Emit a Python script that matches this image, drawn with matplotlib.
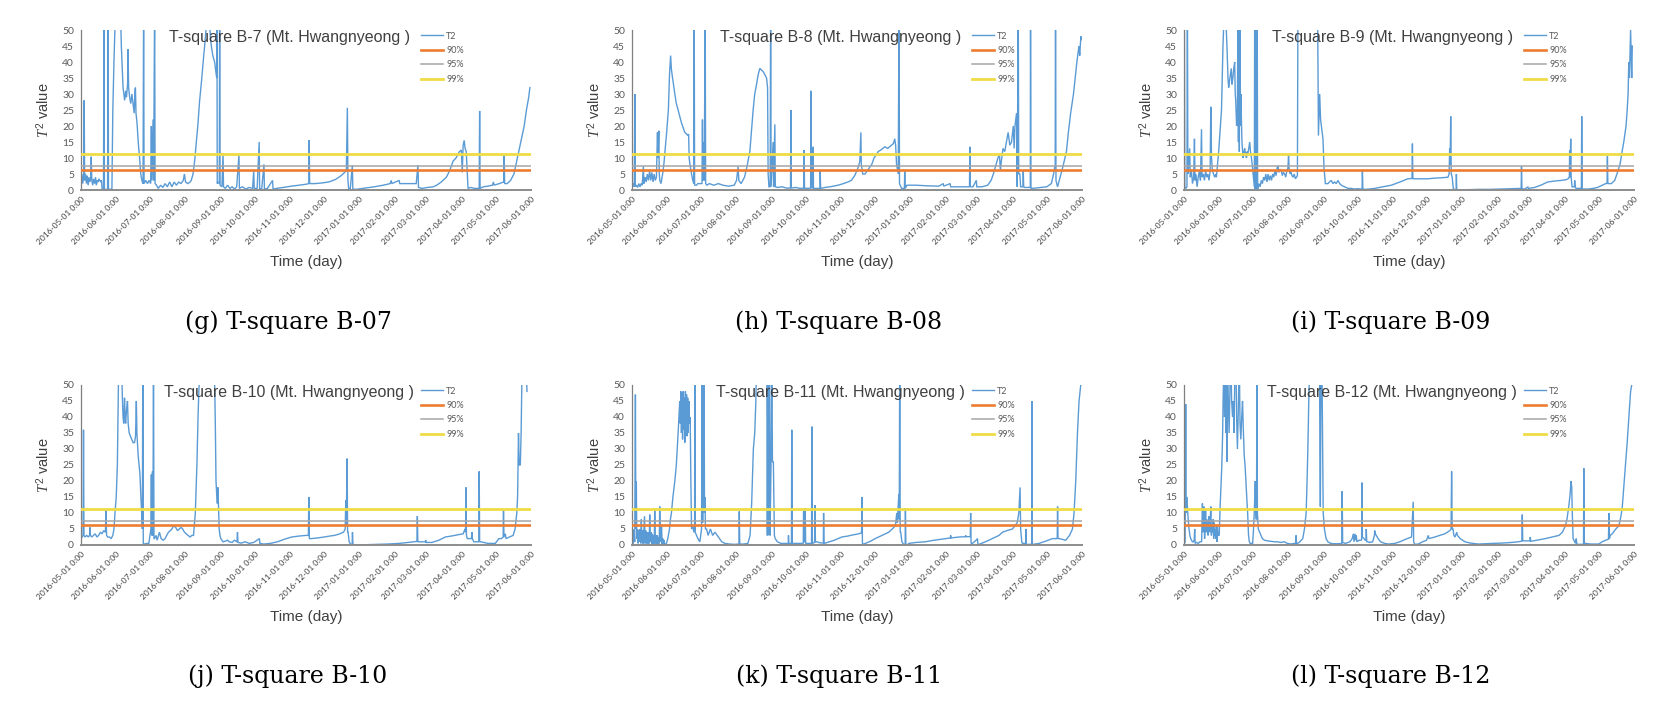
import matplotlib
matplotlib.use("Agg")
import matplotlib.pyplot as plt
import pandas as pd

plt.rcParams['mathtext.fontset'] = 'custom'
plt.rcParams['mathtext.it'] = 'Liberation Serif:italic'
plt.rcParams['mathtext.rm'] = 'Liberation Sans'

# ---------------- data ----------------
start_date = "2016-05-01"
tick_labels = ["2016-05-01 0:00", "2016-06-01 0:00", "2016-07-01 0:00", "2016-08-01 0:00",
               "2016-09-01 0:00", "2016-10-01 0:00", "2016-11-01 0:00", "2016-12-01 0:00",
               "2017-01-01 0:00", "2017-02-01 0:00", "2017-03-01 0:00", "2017-04-01 0:00",
               "2017-05-01 0:00", "2017-06-01 0:00"]
thresholds = [6.2, 7.6, 11.2]          # 90%, 95%, 99%
threshold_names = ["90%", "95%", "99%"]

titles = ["T-square B-7 (Mt. Hwangnyeong )", "T-square B-8 (Mt. Hwangnyeong )",
          "T-square B-9 (Mt. Hwangnyeong )", "T-square B-10 (Mt. Hwangnyeong )",
          "T-square B-11 (Mt. Hwangnyeong )", "T-square B-12 (Mt. Hwangnyeong )"]
captions = ["(g) T-square B-07", "(h) T-square B-08", "(i) T-square B-09",
            "(j) T-square B-10", "(k) T-square B-11", "(l) T-square B-12"]

# (day since 2016-05-01, T2 value); values above 50 run off the top of the chart
g_pts = [(0,3),(0.8,5),(1.5,2),(2.3,4),(2.8,28),(3.2,3),(4,5),(4.8,2),(5.5,4.5),(6.3,1.5),(7,4),(7.8,2.5),
 (8.5,3.5),(9,10.4),(9.5,3),(10.3,1.5),(11,3.5),(12,2),(12.8,4),(13.5,1.5),(14.3,3),(15,2.5),(15.8,3.5),
 (16.5,3),(17.3,2.5),(18,3),(18.6,0.3),(19.8,0.2),(20.2,60),(20.6,0.2),(23.4,0.2),(23.8,60),(24.2,0.2),
 (27.2,0.3),(28,25),(29,40),(30,52),(35,52),(35.5,45),(36.3,38),(37,32),(38.4,28),(39.3,31),(40,29),(41,33),
 (41.4,44),(41.9,32),(42.8,29),(43.8,27),(44.8,30),(45.8,27),(46.8,24),(47.5,31),(47.9,32),(48.4,24),
 (49.3,21),(50,17),(50.8,13),(51.6,10),(52.3,6),(53,4),(54,2.5),(54.6,2),(55.1,60),(55.5,2),(57,3),(58.5,2),
 (60,3),(61.3,2),(61.9,20),(62.4,3),(63.4,22),(63.9,3),(64.8,60),(65.2,2),(66.5,1.5),(68,0.5),(70,1.5),
 (72,0.8),(74,2),(76,1),(78,2.5),(80,1),(82,2.5),(84,1.5),(86,2.5),(88,2),(90,3),(91,5),(92,2.5),(94,2),
 (96,2.5),(97,3),(98.6,5),(100,9),(101.5,15),(103,21),(104.4,28),(105.8,33),(107,38),(108,42),(108.8,45),
 (110,50),(110.5,53),(113,53),(114,47),(114.7,45),(116,42),(117.6,40),(119,36),(119.5,35),(119.6,60),
 (119.9,2),(120.5,2.5),(121.7,2),(122,60),(122.4,1.5),(124,1),(125,11.5),(125.4,1),(127,0.5),(129,1.5),
 (131,0.5),(133,1),(135,0.3),(137,1),(139,11),(139.4,0.5),(142,1),(145,0.3),(148,0.8),(151,0.5),(152,6),
 (152.4,0.5),(155,0.5),(156.8,15),(157.2,0.5),(159,0.3),(161,8),(161.4,0.3),(164,0.5),(168.6,3),(169,0.3),
 (172,0.5),(178,0.8),(185,1.2),(192,1.5),(198,1.8),(200.5,2),(200.8,15.6),(201.2,2),(206,2),(212,2.2),
 (218,2.5),(224,3.3),(229,4.5),(232,5.5),(233.5,6),(234.4,25.7),(234.9,3),(235.6,0.3),(237,0.5),
 (238.8,7.8),(239.2,0.3),(242,0.2),(250,0.6),(258,1),(266,1.5),(272,2),(273,3),(273.5,2),(280,3),(280.5,2),
 (288,2),(295,2),(296.5,7.8),(297,0.8),(300,0.5),(305,0.8),(310,1),(313,1.5),(317,2.5),(321.5,4),
 (324.4,6),(327.4,9),(330,10),(331.8,11.2),(333,12),(334.7,12.5),(335.5,5.5),(336.3,14),(337.2,15.5),
 (338,13),(339,12),(339.8,6),(340.6,0.5),(343,0.8),(346,0.5),(350.4,0.5),(350.8,24.7),(351.2,0.5),
 (354,1),(358,1.2),(362,1.5),(363,2.5),(363.5,1.5),(368,2),(372,2.5),(372.4,11),(372.8,2),(375,2),
 (378,3),(381,5),(384,10),(387,15),(390,20),(392,25),(394,29),(395,32)]

h_pts = [(0,1.5),(1,2),(2,1),(2.5,30),(2.9,1),(4,1.5),(5,0.8),(6,2),(7,1),(8,2),(9,1.5),(10,7.5),(10.5,2),
 (11.5,4),(12.5,2.5),(13.5,5),(14.5,3),(15.5,6),(16.5,3),(17.5,5.5),(18.5,2.5),(19.5,5),(20.5,3),(21.5,4),
 (22.4,18),(22.9,10),(23.6,18.5),(24,5),(24.5,3),(25.5,2),(26,3),(27.4,6),(28.3,9),(29,12),(30.5,18),
 (32,25),(33,36),(34,42),(34.6,38),(35.3,36),(36.5,33),(37.7,30),(39,27),(40.6,25),(42,23),(43.5,21),
 (45,19.5),(46.5,18),(48,17.5),(49.4,17),(49.8,17.5),(50.3,10),(51,8),(52.4,5),(53.5,3),(54.4,2),(54.7,60),
 (55.1,1.5),(56.7,1.5),(58,2),(61,2),(61.6,2),(62,22),(62.4,3),(63.2,15),(63.6,3),(64.4,60),(64.8,2),
 (66,1.5),(68,2),(72,1.5),(76,2),(80,1.5),(85,1.2),(90,1.5),(92,3),(93.4,7.3),(94,3),(96,2),(99,4),(101,7),
 (103.7,12),(105,18),(106.6,25),(108,30),(109.6,33),(111,36),(112.5,38),(114,37.5),(115.4,37),(117,36),
 (118.4,35),(119.3,32),(119.8,5),(120.5,1),(121.6,1),(122,60),(122.4,1),(124.2,15),(124.6,1),(125.7,20.5),
 (126.1,1),(128,0.8),(132,1),(136,0.6),(139.5,0.6),(139.8,25),(140.2,0.6),(144,0.8),(148,0.5),(151.3,0.6),
 (151.5,12.5),(151.8,0.6),(154,0.5),(157.2,0.6),(157.4,31),(157.7,0.8),(159.2,0.6),(159.4,13.5),(159.7,0.5),
 (162,0.5),(165.4,0.5),(165.6,6),(166,0.5),(170,0.8),(176,1.1),(181.4,1.5),(186,2),(190,2.5),(193,3),
 (196,4.5),(199,7),(200.5,9),(201.4,18),(201.8,8),(203,5),(205,5),(207,6),(209,7),(211,8),(213,10),(215,11),
 (216.6,12),(219,12.5),(222.5,13.5),(225,13),(228.3,14),(230,14.5),(231.2,16),(232,14),(232.8,8),(234.3,5),
 (235,60),(235.4,2),(237.2,0.5),(239.7,0.5),(240,6),(240.4,0.5),(242,1.5),(250,1.5),(260,1.3),(270,1.2),
 (273.9,2),(274.3,1.2),(280,2),(280.4,1),(290,1),(297,1),(297.3,13.5),(297.7,1),(300,1),(303,3),(303.4,1),
 (308,1),(313,1.5),(316,3),(318,5),(320.4,8),(322,10),(323.4,11),(324.2,6),(325,9),(326.5,13),(328,12),
 (329.5,15),(331,18),(332.5,14),(334,15),(335.5,20),(336.3,13),(337,20),(338.4,24),(339,1),(339.9,60),
 (340.3,5),(341.3,5),(342,1),(344,1),(344.3,6),(344.7,1),(345.7,0.8),(350.5,0.8),(350.7,60),(351.1,0.5),
 (355,0.6),(360,0.8),(365,1),(369,2),(371,5),(372.4,8),(372.7,60),(373.1,3),(374.5,1),(376,3),(379,7),
 (382.3,12),(384,18),(386,24),(388.5,30),(390,35),(391.5,40),(393.3,45),(394,42),(395,48),(395.5,47)]

i_pts = [(0,2),(0.3,60),(0.7,1),(1.5,0.5),(2.6,1),(3,60),(3.4,5),(4,7),(5,13),(5.5,4),(6.5,6),(7.5,2),
 (8.5,4),(9.2,16),(9.7,3),(10.5,5),(11.5,1),(12.5,4),(13.5,6),(14.5,3),(15.4,19),(15.9,4),(17,5),(18,3),
 (19,6),(20,4),(21,5),(22,3),(23,6),(23.6,26),(24.2,10),(25,6),(26,5),(27,4),(28,5),(28.5,4),(29.5,8),
 (30.5,12),(32,20),(33,25),(34.3,45),(35,52),(37,52),(37.8,45),(38.7,35),(39.3,32),(40,34),(40.8,36),
 (41.6,38),(42.2,33),(43,35),(43.8,38),(44.6,40),(45.1,30),(45.5,28),(46.3,20),(47,24),(47.5,60),(47.9,15),
 (48.3,60),(48.7,12),(49.1,60),(49.5,20),(50,30),(51,15),(52,10),(52.8,12),(53.4,13),(54.2,11),(55,10),
 (55.6,12),(56,11),(57,13),(57.8,15),(58.5,12),(59,11),(60,8),(61.3,3),(61.9,1),(62.2,60),(62.6,0.2),
 (63.3,60),(63.7,0.3),(64.4,60),(64.8,0.3),(66,2),(67,1),(68,3),(69,2),(70,4),(71,3),(72,5),(73,2.5),(74,5),
 (75,3),(76,4.5),(77,3),(78,5),(79,4),(80,6),(81,4.5),(82,7),(82.7,7.5),(83.5,5.5),(84.5,6.5),(85.7,6),
 (86.5,4.5),(87.5,5.5),(88.6,5),(89.5,4),(90.5,6),(91.5,7),(92,11),(92.6,6),(93.4,5),(94,6),(95,4.5),(96,4),
 (97,5),(98,3.5),(99,4),(99.8,4.5),(100.3,60),(117.5,60),(118.3,17),(119,25),(119.4,30),(120.2,22),
 (120.9,20),(121.6,18),(122.3,16),(123.2,7),(124.4,2),(126.7,2),(128,2.5),(129.7,3),(131,2),(132.6,2.5),
 (134,2),(135.5,3),(137,2),(138.5,1.5),(140,1.2),(141.4,1),(144.3,0.5),(147,0.5),(150,0.3),(153,0.4),
 (156.7,0.3),(157,6),(157.4,0.3),(159,0.2),(163,0.3),(168,0.5),(175,1),(182.5,1.5),(190,2.5),(197,3.5),
 (200.6,3.6),(201,14.5),(201.4,3.5),(203,3.5),(210,3.5),(214.7,3.5),(220,3.7),(226,3.8),(232.3,4),(233.3,5),
 (233.8,13),(234.2,8),(234.7,23),(235.2,5),(236,4),(237,0.5),(238.2,0.1),(239.5,0.1),(239.7,5),(240,0.1),
 (241,0.1),(250,0.1),(260,0.2),(270,0.2),(280,0.3),(290,0.4),(296.7,0.5),(297,7.5),(297.4,0.4),(300,0.3),
 (302.7,1),(303,0.5),(308.6,0.8),(314,1.5),(320,2.5),(326,2.8),(332,3),(336,3.2),(338,3.5),(339.1,4),
 (339.4,12.5),(339.8,4),(340.3,16),(340.7,4),(341.5,1),(343.6,1),(343.8,3),(344.2,1),(345,0.5),(349.7,0.5),
 (350,23),(350.4,0.3),(352,0.3),(356,0.3),(360,0.5),(364,0.8),(368,1.5),(371,2),(372.3,2),(372.6,10.5),
 (373,2),(376,2),(379,3),(381,5),(383.7,8),(385.5,12),(387,15),(389,20),(390,25),(390.8,30),(391.4,40),
 (392,35),(392.5,43),(393,50),(393.5,42),(394,35),(394.5,45)]

j_pts = [(0,2),(1,2.5),(1.8,3),(2.2,36),(2.6,3),(3.5,2.5),(5,3),(6.5,2.5),(7.5,3),(7.9,5.5),(8.3,3),(9.5,2.5),
 (11,3),(12.5,3.5),(14,2.5),(15.5,3),(17,4),(18.5,3.5),(20,4.5),(21.5,4),(22,11),(22.5,3),(23.5,2.5),(25,2.5),
 (26.5,2),(28,3),(29,5),(29.9,10),(31,15),(32,25),(32.6,40),(33,52),(36,52),(36.5,45),(37,40),(37.6,38),
 (38.3,46),(38.8,40),(39.3,38),(40,42),(40.9,45),(41.5,38),(42.4,35),(43.5,34),(44.6,33),(45.8,32),(47.1,32),
 (48,34),(48.7,45),(49.2,35),(50.3,28),(51.1,25),(51.9,22),(52.7,15),(53.4,10),(54,5),(54.4,60),(54.8,0.5),
 (56,0.3),(58,0.5),(59.7,0.5),(61.5,5),(61.9,22),(62.3,3),(62.9,23),(63.3,3),(63.8,60),(64.2,2),(64.7,2),
 (66,3),(67,1.5),(69,4),(70.5,2),(72.3,1.5),(74,2),(75.4,3),(77,4),(78.6,4.5),(80,5),(81.5,6),(83.3,5.5),
 (85,4.5),(86.5,5),(88,5.5),(89.5,5),(91,4),(92.5,3.5),(94.3,3),(96,2.5),(97.5,3),(99,3),(100.6,10),(102,25),
 (103,40),(103.7,48),(104.2,52),(117.5,52),(117.9,45),(118.3,35),(118.8,20),(119.4,16),(120,13),(120.5,18),
 (121,12),(121.6,5),(122.3,3),(123,2),(125,1),(127,1.2),(128.9,1.5),(130.5,1),(133,0.8),(135,1.5),(137.3,1),
 (137.7,4),(138.1,0.8),(141,0.6),(144.6,1),(148,0.5),(152,0.8),(157,2),(157.4,0.5),(161,0.3),(166.6,0.5),
 (172.9,1),(179,1.8),(185.4,2.5),(192,2.8),(198,3),(200.1,3),(200.5,15),(200.9,2),(202.7,2),(208,2.2),
 (214,2.5),(219,2.8),(223,3),(227,3.4),(231,4),(232.5,5),(233,14),(233.4,6),(234.2,27),(234.6,4),(235,4),
 (236,1),(237.3,0.2),(238.6,0.2),(238.9,4),(239.3,0.2),(242,0),(250,0.1),(260,0.2),(270,0.3),(280,0.5),
 (288,0.8),(292.3,1),(295.6,1.1),(296,9),(296.4,1),(298.6,1),(303.1,1),(303.3,1.5),(303.6,0.8),(308.8,0.8),
 (315,1.5),(320.6,2.5),(326,2.8),(332,3.2),(336.3,3.5),(337.9,5),(338.4,4),(338.8,18),(339.2,3),(340,2),
 (342,2),(343.6,2),(344,4),(344.4,2),(345.7,1),(350.1,1),(350.4,23),(350.8,1),(352,1),(358,0.5),(364.6,0.5),
 (367.7,2),(370,2),(371.5,2.5),(371.8,11),(372.2,2.5),(373.4,3.5),(374,2),(377,2.5),(380.3,3),(382,5),
 (383.5,10),(384.2,15),(385,35),(385.6,25),(386.6,25),(387.3,35),(388,52),(392,52),(392.5,48)]

k_pts = [(0,1),(0.6,5),(1.2,0.5),(1.8,4.5),(2.4,1),(3,47),(3.4,5),(3.8,20),(4.2,2),(4.8,5),(5.4,0.5),(6,4.5),
 (6.6,1),(7.2,5),(7.8,0.5),(8.2,8),(8.7,1),(9.3,4.5),(9.9,0.3),(10.5,5),(11,9),(11.5,0.5),(12.1,4.5),
 (12.7,0.5),(13.3,4),(13.9,0.3),(14.5,4),(15.1,0.5),(15.6,9.5),(16.1,1),(16.7,4),(17.3,0.3),(17.9,3.5),
 (18.5,0.5),(19.1,3),(19.6,0.3),(20,11),(20.5,0.5),(21.1,3),(21.7,0.3),(22.3,3),(22.9,0.3),(23.5,2.5),
 (24,0.5),(24.4,12),(24.9,1),(25.5,2.5),(26,6),(26.5,0.3),(27.1,2),(27.7,0.2),(28.3,1.5),(28.8,0),(30.3,0.5),
 (31.5,2),(33,5),(33.8,8),(34.7,10),(36,15),(37.7,20),(39,25),(39.8,30),(40.6,35),(41.3,40),(42,45),
 (42.5,38),(43,48),(43.5,35),(44,47),(44.5,33),(45,48),(45.5,36),(46,46),(46.5,32),(47,48),(47.5,38),(48,47),
 (48.5,34),(49,46),(49.5,35),(50,45),(50.5,38),(51.2,40),(51.8,20),(52.4,5),(53.5,6),(54.5,4),(55.1,5),
 (55.3,60),(55.6,4),(56.8,3),(58,2),(59.7,1),(61.2,5),(61.8,60),(62.2,7),(62.6,60),(63,18),(63.4,60),
 (63.8,10),(64.2,15),(64.6,5),(65.6,5),(67,3),(69,5),(71,3),(73,4),(75,3),(76,2.5),(79,1),(81.8,0.5),
 (86,0.3),(90,0.2),(94.1,0.3),(94.4,10.5),(94.8,0.3),(98,0.3),(102,0.5),(103.9,3),(105.3,13),(106.8,30),
 (108,35),(109,45),(109.7,60),(118.6,60),(119.1,3),(119.6,60),(120.2,3),(121,60),(121.5,3),(122.4,27),
 (123,60),(123.6,26),(124.4,26),(125.3,3),(126,2),(128,1),(131,0.5),(135,0.5),(137.5,0.5),(137.7,3),
 (138,0.5),(140.3,0.5),(140.6,36),(141,0.5),(145,0.5),(150.7,0.5),(151,10.5),(151.4,1),(152.2,1),
 (152.4,11.5),(152.8,0.5),(156,0.5),(158,0.5),(158.3,37),(158.7,0.5),(160.7,0.8),(161,12.5),(161.4,1),
 (162.7,1),(165,0.7),(168.4,0.6),(168.6,10),(169,0.5),(172,0.8),(178,1.5),(184.7,2.5),(190,2.8),(195,3.2),
 (199.5,3.5),(202,3.8),(202.4,15),(202.8,0.2),(205.4,0.5),(210,1.2),(214,2),(220,3),(226,4),(229,5),
 (231.8,6),(233,10),(233.5,7),(234.8,16),(235.2,8),(235.6,60),(236,4),(236.5,4),(237.5,1),(239,0.2),
 (240.4,0.2),(240.6,11.5),(241,0.2),(242,0),(243.6,0.5),(250,0.8),(258,1),(266,1.5),(276,2),(280.2,2.2),
 (280.4,3),(280.8,2.2),(287.7,2.5),(293.4,2.6),(293.6,3),(294,2.6),(297.7,2.6),(298,10),(298.4,0.5),
 (299.5,0.5),(303.8,1.8),(304,2),(304.4,0.2),(305.4,0.2),(311,1),(317,2),(323,3),(326,4),(330,4.5),
 (334.8,5),(337,6),(339,7),(340.4,10),(341.5,18),(342,5),(343,1),(343.6,0.5),(346.4,0.5),(346.6,5),
 (347,0.2),(348,0.2),(351.7,0.2),(351.9,45),(352.3,0.2),(353,0.2),(358.3,0.5),(364,1.2),(370,2),
 (374.2,2),(374.5,12),(374.9,2),(376,2),(381.7,1.5),(385,3),(387.6,5),(389,10),(390.5,20),(392,35),
 (393.4,45),(394.9,50)]

l_pts = [(0,0),(1,1),(1.5,44),(1.9,10),(2.4,15),(3,12),(3.7,8),(4.4,5),(5.2,3),(5.9,2),(6.6,1.5),(7.4,1),
 (8.2,1),(9,1.5),(9.4,5),(9.8,0.5),(11,0.8),(12.5,0.5),(14,1),(15.5,1),(16.2,13),(16.8,4),(17.4,6),(17.7,12),
 (18.1,2),(18.5,5),(19,11),(19.5,4),(20,8),(20.6,6),(21.2,3),(22,9),(22.5,4),(23,7),(23.6,12),(24.1,3),
 (24.6,6),(25,4),(25.6,8),(26.1,2),(26.5,7),(27,3),(27.5,5),(28,2),(28.5,6),(29,1),(29.4,6),(30,3),(31,3),
 (31.8,12),(32.5,18),(33.3,25),(34,35),(34.4,45),(35.3,60),(35.7,40),(36,60),(36.8,35),(37.2,50),(37.7,26),
 (38.3,60),(39,45),(39.7,35),(40.4,48),(41.2,60),(41.9,45),(42.7,40),(43.3,45),(44,35),(44.8,55),(45.6,60),
 (46.3,40),(47,30),(47.8,42),(48.6,60),(49.3,38),(50,33),(50.8,40),(51.5,45),(52.2,36),(53,28),(53.7,25),
 (54.5,20),(55.2,15),(56,10),(56.8,3),(57.5,1),(58.3,0.5),(60.4,0.5),(61.2,5),(61.8,10),(62.3,15),(62.7,20),
 (63.2,12),(63.6,8),(63.9,20),(64.2,60),(64.6,10),(65.4,5),(66.5,4),(67.7,3),(69,2),(70.7,1.5),(75,1.2),
 (80,1),(82.4,1),(85,0.8),(88.3,1),(91,0.5),(94.2,0.3),(97,0.5),(98.3,0.5),(98.6,3),(99,0.6),(100,0.5),
 (102,1),(104.5,2),(106,5),(107.5,10),(108.3,20),(109,30),(109.8,45),(110.7,60),(119.2,60),(119.6,30),
 (120,12),(120.5,50),(121,60),(121.3,60),(121.8,40),(122.5,10),(123.6,5),(125,2),(126.6,1),(129,0.5),
 (132,0.4),(136,0.4),(138.9,0.5),(139.2,16.8),(139.6,0.8),(142,0.5),(146,1),(148,2),(149,3.5),(149.6,1),
 (150.4,3.5),(151,1.5),(151.6,3),(152.2,1),(154,1.5),(156.3,1.5),(156.6,19.5),(157,2.5),(158.4,2),
 (159.5,1.5),(160.2,1.5),(160.4,5),(160.8,1),(161.9,1),(163,0.8),(166,1),(167.6,3),(167.8,4.5),(168.4,3.5),
 (170.8,2),(173,1),(176.6,0.5),(180,0.3),(185.5,0.5),(190,1),(195,1.8),(200.2,2.5),(201.7,13.5),(202.1,1),
 (203,0.2),(206,0.3),(210,1),(213.4,1.5),(214.5,2.5),(215,3),(215.5,2),(220.8,2.5),(225,3),(229.6,3.5),
 (234,4.5),(235,5),(235.5,23),(236,5),(236.7,5),(237.5,3),(238.5,2.5),(239.5,3.5),(240,4),(240.6,3),
 (243,2),(247.3,1),(252,0.6),(259,0.3),(265,0.4),(272,0.5),(280,0.6),(288.5,0.8),(294,1),(297.3,1.2),
 (297.7,9.5),(298.1,1.3),(299,1.3),(304.5,1.3),(304.7,2.5),(305.1,1.2),(306,1.2),(312,1.6),(318,2),
 (324,2.5),(330,3),(333,4),(335.6,6),(337,8),(338.6,12),(339.8,16),(340.6,20),(341.2,18),(341.7,10),
 (342.4,2),(344.5,0.5),(345.2,2),(345.7,0.3),(346.5,0.2),(350,0.2),(351.6,0.3),(351.8,24),(352.2,0.5),
 (353.3,0.5),(358,0.3),(365,0.3),(368,1),(371,1.5),(373.5,1.8),(374,10),(374.4,2),(375,3),(376.8,3.5),
 (380,5),(382.7,6),(384.5,9),(385.7,12),(387,18),(388.6,25),(390,32),(391.5,40),(393,48),(394,50),(394.5,52)]

panel_data = [g_pts, h_pts, i_pts, j_pts, k_pts, l_pts]

# ---------------- style ----------------
C_T2 = "#5B9BD5"
C_THR = ["#ED7D31", "#A5A5A5", "#EFDC45"]
LW_THR = [1.9, 1.1, 2.0]
TXT = "#595959"

W, H = 1660, 709
fig = plt.figure(figsize=(W / 100, H / 100), dpi=100)

lefts_px = [81, 632, 1184]
bottoms_px = [190, 545]     # y pixel (from top) of the x axis line
ax_w, ax_h = 450, 160
caption_y_px = [322, 676]

t0 = pd.Timestamp(start_date)
tick_pos = [(pd.Timestamp(lbl.split(" ")[0]) - t0).days for lbl in tick_labels]

for idx, pts in enumerate(panel_data):
    r, c = divmod(idx, 3)
    lpx, bpx = lefts_px[c], bottoms_px[r]
    ax = fig.add_axes([lpx / W, (H - bpx) / H, ax_w / W, ax_h / H])
    days = [p[0] for p in pts]
    vals = [p[1] for p in pts]
    ln_t2, = ax.plot(days, vals, color=C_T2, lw=1.0, zorder=2, solid_joinstyle='miter')
    thr_lines = []
    for tv, tc, tw in zip(thresholds, C_THR, LW_THR):
        hl = ax.axhline(tv, color=tc, lw=tw, zorder=3)
        thr_lines.append(hl)

    ax.set_xlim(0, tick_pos[-1])
    ax.set_ylim(0, 50)
    ax.set_yticks(range(0, 51, 5))
    ax.set_xticks(tick_pos)
    ax.set_xticklabels(tick_labels, rotation=45, ha='right', rotation_mode='anchor',
                       fontsize=6, color="#404040", family="Lato")
    for t in ax.get_yticklabels():
        t.set_fontsize(7.5)
        t.set_color(TXT)
        t.set_family("Lato")
    ax.tick_params(axis='both', length=0)
    ax.tick_params(axis='y', pad=5)
    ax.tick_params(axis='x', pad=4)
    for s in ["top", "right"]:
        ax.spines[s].set_visible(False)
    ax.spines["left"].set_color("#7F7F7F")
    ax.spines["left"].set_linewidth(0.9)
    ax.spines["bottom"].set_color("#8C8C8C")
    ax.spines["bottom"].set_linewidth(1.4)
    ax.spines["bottom"].set_zorder(4)

    ax.text(0.463, 0.955, titles[idx], transform=ax.transAxes, ha='center', va='center',
            fontsize=11.5, color="#404040", family="Liberation Sans", zorder=5)
    ax.legend([ln_t2] + thr_lines, ["T2"] + threshold_names, loc='upper left',
              bbox_to_anchor=(0.756, 0.99), frameon=False,
              handlelength=2.4, handletextpad=0.35, labelspacing=0.6, borderpad=0,
              borderaxespad=0, labelcolor=TXT, prop={'family': 'Lato', 'size': 6.5})

    ax.text(-0.084, 0.5, r"$\mathit{T}^{2}$ value", transform=ax.transAxes, rotation=90,
            ha='center', va='center', fontsize=10.5, color="#404040", family="Liberation Sans")
    ax.text(0.5, -0.45, "Time (day)", transform=ax.transAxes, ha='center', va='center',
            fontsize=11, color="#404040", family="Liberation Sans")

    fig.text((lpx + 207) / W, (H - caption_y_px[r]) / H, captions[idx], ha='center', va='center',
             fontsize=17, color="black", family="DejaVu Serif")

fig.savefig("out.png", dpi=100, facecolor="white")
